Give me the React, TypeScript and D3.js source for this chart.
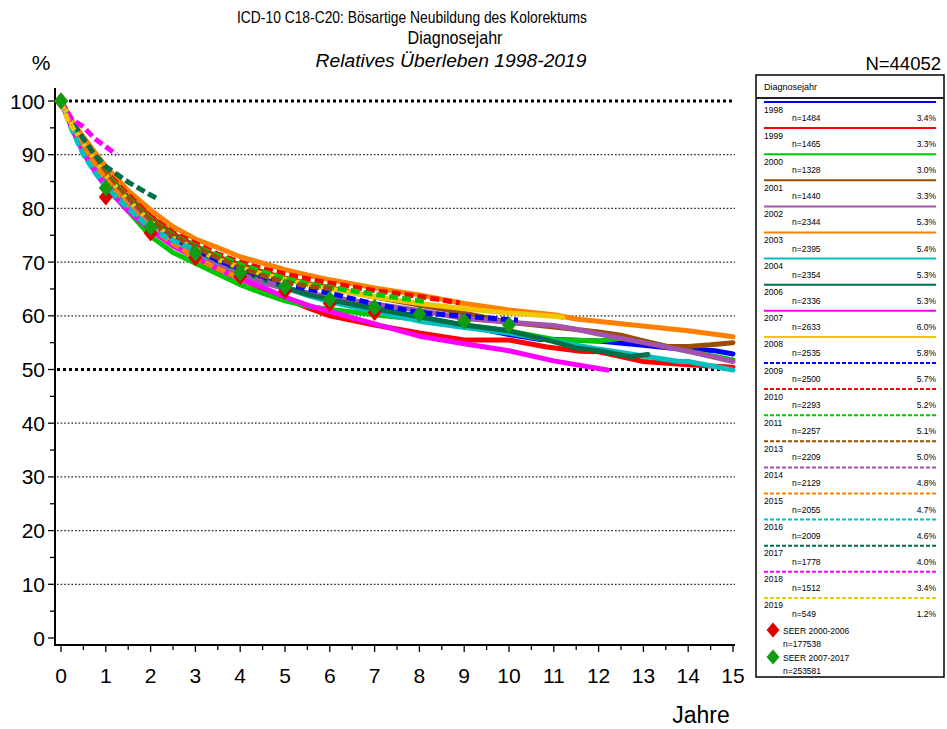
import React from 'react';
import * as d3 from 'd3';

const W = 947;
const H = 729;

// ---- Data ----
const diagYears = ['1998', '1999', '2000', '2001', '2002', '2003', '2004', '2006', '2007', '2008', '2009', '2010', '2011', '2013', '2014', '2015', '2016', '2017', '2018', '2019'];
const caseCounts = [1484, 1465, 1328, 1440, 2344, 2395, 2354, 2336, 2633, 2535, 2500, 2293, 2257, 2209, 2129, 2055, 2009, 1778, 1512, 549];
const caseShares = ['3.4%', '3.3%', '3.0%', '3.3%', '5.3%', '5.4%', '5.3%', '5.3%', '6.0%', '5.8%', '5.7%', '5.2%', '5.1%', '5.0%', '4.8%', '4.7%', '4.6%', '4.0%', '3.4%', '1.2%'];

const xTicks = [0, 1, 2, 3, 4, 5, 6, 7, 8, 9, 10, 11, 12, 13, 14, 15];
const yTicks = [0, 10, 20, 30, 40, 50, 60, 70, 80, 90, 100];

const s1998: [number, number][] = [[0, 100], [0.25, 95.5], [0.5, 92], [0.75, 88.8], [1, 86], [1.5, 81.8], [2, 77.5], [2.5, 74.5], [3, 72.2], [3.5, 70.2], [4, 68.6], [4.5, 67], [5, 65.2], [5.5, 64.2], [6, 63.3], [7, 61.5], [8, 59.8], [9, 58.2], [10, 56.5], [10.7, 55.6], [11, 55.6], [12, 55.3], [13, 54.5], [13.6, 54.0], [14, 53.8], [14.6, 53.5], [15, 52.9]];
const s1999: [number, number][] = [[0, 100], [0.25, 95], [0.5, 91.3], [0.75, 88], [1, 85], [1.5, 80.5], [2, 76.5], [2.5, 73.5], [3, 71.2], [3.5, 69], [4, 67], [4.5, 65], [5, 63.3], [5.5, 61.5], [6, 60], [7, 58.3], [8, 56.8], [9, 55.5], [10, 55.5], [10.85, 54.2], [11.6, 53.4], [12, 53.3], [13, 51.5], [14, 50.9], [15, 50.4]];
const s2000: [number, number][] = [[0, 100], [0.25, 95], [0.5, 91], [0.75, 87.5], [1, 84], [1.5, 79.5], [2, 74.8], [2.5, 71.8], [3, 69.8], [3.5, 67.8], [4, 65.8], [4.5, 64.2], [5, 62.8], [5.5, 61.8], [6, 61.2], [7, 60.2], [8, 59.3], [9, 58.3], [10, 57.2], [11, 55.6], [12, 55.3], [12.5, 55.8], [13, 55.3], [14, 53.4], [15, 51.8]];
const s2001: [number, number][] = [[0, 100], [0.25, 96], [0.5, 92.8], [0.75, 89.8], [1, 87], [1.5, 82.5], [2, 78.5], [2.5, 75.3], [3, 73], [3.5, 71], [4, 69.5], [4.5, 68.2], [5, 67], [5.5, 66], [6, 65.2], [7, 63.5], [8, 62], [9, 60.5], [10, 58.8], [11, 57.9], [12, 57.0], [12.5, 56.4], [13, 55.3], [13.5, 54.3], [14, 54.3], [14.5, 54.6], [15, 55.0]];
const s2002: [number, number][] = [[0, 100], [0.25, 95.3], [0.5, 91.5], [0.75, 88.5], [1, 85.5], [1.5, 81], [2, 77], [2.5, 73.8], [3, 71.5], [3.5, 69.5], [4, 67.8], [4.5, 66.2], [5, 65], [5.5, 64.2], [6, 63.5], [7, 62.2], [8, 61], [9, 59.5], [10, 58.8], [11, 58.2], [11.5, 57.5], [12, 56.6], [13, 55.0], [14, 53.4], [15, 51.5]];
const s2003: [number, number][] = [[0, 100], [0.25, 96.2], [0.5, 93.3], [0.75, 90.5], [1, 87.8], [1.5, 83.3], [2, 79.7], [2.5, 76.6], [3, 74.3], [3.5, 72.7], [4, 71], [4.5, 69.8], [5, 68.6], [5.5, 67.6], [6, 66.7], [7, 65.2], [8, 63.9], [9, 62.3], [10, 61.1], [11, 60.2], [11.5, 59.4], [12.5, 58.5], [14, 57.2], [15, 56.1]];
const s2004: [number, number][] = [[0, 100], [0.25, 94.8], [0.5, 90.3], [0.75, 87], [1, 84], [1.5, 80], [2, 76.3], [2.5, 73.8], [3, 71.8], [3.5, 70], [4, 68.4], [4.5, 66.6], [5, 65.2], [5.5, 63.8], [6, 62.6], [7, 60.8], [8, 59], [9, 57.8], [10, 56.8], [11, 55.3], [12, 53.8], [13, 52.5], [13.8, 51.5], [14, 51.5], [15, 49.9]];
const s2006: [number, number][] = [[0, 100], [0.25, 95.5], [0.5, 92], [0.75, 89], [1, 86.3], [1.5, 81.8], [2, 77.6], [2.5, 74.7], [3, 72.3], [3.5, 70.2], [4, 68.5], [4.5, 66.8], [5, 65.3], [5.5, 64], [6, 63], [7, 61.3], [8, 59.8], [9, 58.3], [10, 57.2], [11, 55.2], [11.5, 54], [12, 53.5], [12.7, 52.4], [13.1, 52.8]];
const s2007: [number, number][] = [[0, 100], [0.25, 94.8], [0.5, 90.5], [0.75, 87], [1, 84], [1.5, 79.5], [2, 76], [2.5, 73], [3, 70.8], [3.5, 68.7], [4, 66.8], [4.5, 65.3], [5, 63.5], [5.5, 62], [6, 60.8], [7, 58.5], [8, 56.2], [9, 54.8], [10, 53.5], [11, 51.6], [12, 50.2], [12.2, 49.9]];
const s2008: [number, number][] = [[0, 100], [0.25, 95.5], [0.5, 92], [0.75, 89], [1, 86.2], [1.5, 81.5], [2, 77.5], [2.5, 74.5], [3, 72.5], [3.5, 70.5], [4, 69], [4.5, 67.8], [5, 66.8], [5.5, 65.8], [6, 65], [7, 63.5], [8, 62.3], [9, 61.3], [10, 60.5], [11, 59.9], [11.2, 59.7]];
const s2009: [number, number][] = [[0, 100], [0.25, 95.5], [0.5, 91.8], [0.75, 88.8], [1, 86], [1.5, 81.5], [2, 77.5], [2.5, 74.5], [3, 72.3], [3.5, 70.3], [4, 68.7], [4.5, 67.2], [5, 66], [5.5, 65], [6, 64.2], [7, 62.2], [8, 60.6], [9, 59.9], [10, 59.3], [10.2, 59.2]];
const s2010: [number, number][] = [[0, 100], [0.25, 96], [0.5, 92.5], [0.75, 89.5], [1, 86.8], [1.5, 82.5], [2, 78.5], [2.5, 75.5], [3, 73.5], [3.5, 71.5], [4, 70], [4.5, 68.8], [5, 67.8], [5.5, 66.9], [6, 66.1], [7, 64.7], [8, 63.6], [8.9, 62.4]];
const s2011: [number, number][] = [[0, 100], [0.25, 95.8], [0.5, 92.3], [0.75, 89.3], [1, 86.5], [1.5, 82], [2, 78], [2.5, 75], [3, 73], [3.5, 71.2], [4, 69.6], [4.5, 68.2], [5, 67], [5.5, 66], [6, 65.3], [7, 64], [8, 62.8], [8.17, 62.6]];
const s2013: [number, number][] = [[0, 100], [0.25, 95.5], [0.5, 92], [0.75, 89], [1, 86.2], [1.5, 81.8], [2, 77.8], [2.5, 74.8], [3, 72.8], [3.5, 70.8], [4, 69], [4.5, 67.5], [5, 66.3], [5.5, 65.5], [6, 65.1], [6.1, 65.0]];
const s2014: [number, number][] = [[0, 100], [0.25, 95], [0.5, 91.3], [0.75, 88.2], [1, 85.3], [1.5, 80.8], [2, 76.8], [2.5, 73.5], [3, 71.3], [3.5, 69.3], [4, 67.8], [4.5, 66.3], [5, 65.5], [5.1, 65.4]];
const s2015: [number, number][] = [[0, 100], [0.25, 95.2], [0.5, 91.5], [0.75, 88.3], [1, 85.5], [1.5, 80.5], [2, 76.5], [2.5, 73.5], [3, 70.8], [3.5, 68.8], [4, 67.0], [4.1, 66.8]];
const s2016: [number, number][] = [[0, 100], [0.25, 94.5], [0.5, 90], [0.75, 86.8], [1, 84], [1.5, 80], [2, 76.2], [2.5, 74], [3, 72.3], [3.1, 72]];
const s2017: [number, number][] = [[0, 100], [0.25, 96], [0.5, 93], [0.75, 90], [1, 87.8], [1.5, 84.9], [2, 82.5], [2.2, 81.6]];
const s2018: [number, number][] = [[0, 100], [0.25, 96.5], [0.5, 95.2], [0.75, 93], [1, 91.5], [1.24, 90]];
const s2019: [number, number][] = [[0, 100], [0.15, 96.5], [0.3, 94.5]];

const seerRed: [number, number][] = [[0, 100], [1, 82.1], [2, 75.4], [3, 70.8], [4, 67.3], [5, 64.6], [6, 62.3], [7, 60.6]];
const seerGreen: [number, number][] = [[0, 100], [1, 83.8], [2, 76.5], [3, 71.7], [4, 68], [5, 65.4], [6, 63.1], [7, 61.6], [8, 60.3], [9, 59.0], [10, 58.3]];
const seerLabels = ['SEER 2000-2006', 'SEER 2007-2017'];
const seerCounts = ['n=177538', 'n=253581'];

const allSeries = [s1998, s1999, s2000, s2001, s2002, s2003, s2004, s2006, s2007, s2008, s2009, s2010, s2011, s2013, s2014, s2015, s2016, s2017, s2018, s2019];

// ---- Styles ----
const palette = ['#0000ff', '#ff0000', '#00c800', '#9a4c00', '#a452ac', '#ff8000', '#00c0c0', '#006e46', '#ff00ff', '#f0c800'];
const FONT = '"Liberation Sans", Arial, Helvetica, sans-serif';

const x = d3.scaleLinear().domain([0, 15]).range([61, 733]);
const y = d3.scaleLinear().domain([0, 100]).range([638, 101]);

const line = d3.line<[number, number]>().x(d => x(d[0])).y(d => y(d[1])).curve(d3.curveLinear);

function diamond(cx: number, cy: number, hw: number, hh: number) {
  return `M${cx},${cy - hh}L${cx + hw},${cy}L${cx},${cy + hh}L${cx - hw},${cy}Z`;
}

export default function App() {
  const minorY = d3.range(5, 100, 10);
  const minorX = d3.range(0.5, 15, 1);
  const legendTop = 102;
  const legendStep = 26.1;
  return (
    <div style={{ position: 'absolute', left: 0, top: 0 }}>
      <svg width={W} height={H} style={{ display: 'block', background: '#fff' }} fontFamily={FONT}>
        <rect x={0} y={0} width={W} height={H} fill="#fff" />
        {/* Titles */}
        <text x={412} y={22.5} fontSize={16.5} textAnchor="middle" textLength={350} lengthAdjust="spacingAndGlyphs">ICD-10 C18-C20: Bösartige Neubildung des Kolorektums</text>
        <text x={455} y={44} fontSize={19} textAnchor="middle" textLength={95} lengthAdjust="spacingAndGlyphs">Diagnosejahr</text>
        <text x={451} y={66.5} fontSize={19} textAnchor="middle" fontStyle="italic" textLength={271} lengthAdjust="spacingAndGlyphs">Relatives Überleben 1998-2019</text>
        <text x={41} y={70} fontSize={21} textAnchor="middle">%</text>
        <text x={941} y={69.5} fontSize={18.5} textAnchor="end">N=44052</text>

        {/* Gridlines */}
        {yTicks.filter(v => v > 0).map(v => (
          <line key={'g' + v} x1={57} x2={735} y1={y(v)} y2={y(v)}
            stroke="#000" strokeWidth={v % 50 === 0 ? 3 : 1.3}
            strokeDasharray={v % 50 === 0 ? '3 3' : '1.6 2'} opacity={v % 50 === 0 ? 1 : 0.85} />
        ))}

        {/* Axes */}
        <line x1={55} x2={55} y1={88} y2={646} stroke="#000" strokeWidth={2} />
        <line x1={54} x2={735} y1={645} y2={645} stroke="#000" strokeWidth={2} />
        {yTicks.map(v => (
          <g key={'yt' + v}>
            <line x1={48} x2={55} y1={y(v)} y2={y(v)} stroke="#000" strokeWidth={1.3} />
            <text x={45} y={y(v) + 7.5} fontSize={21} textAnchor="end">{v}</text>
          </g>
        ))}
        {minorY.map(v => (
          <line key={'ym' + v} x1={50} x2={55} y1={y(v)} y2={y(v)} stroke="#000" strokeWidth={1.3} />
        ))}
        {xTicks.map(v => (
          <g key={'xt' + v}>
            <line x1={x(v)} x2={x(v)} y1={645} y2={652} stroke="#000" strokeWidth={1.3} />
            <text x={x(v)} y={682.5} fontSize={21} textAnchor="middle">{v}</text>
          </g>
        ))}
        {minorX.map(v => (
          <line key={'xm' + v} x1={x(v)} x2={x(v)} y1={645} y2={650} stroke="#000" strokeWidth={1.3} />
        ))}
        <text x={701} y={723} fontSize={23} textAnchor="middle">Jahre</text>

        {/* Survival curves */}
        {allSeries.map((s, i) => (
          <path key={'s' + i} d={line(s) || ''} fill="none" stroke={palette[i % 10]}
            strokeWidth={5} strokeLinejoin="round" strokeLinecap={i >= 10 ? 'butt' : 'round'}
            strokeDasharray={i >= 10 ? '9 4' : undefined} />
        ))}

        {/* SEER markers */}
        {seerRed.map((d, i) => (
          <path key={'sr' + i} d={diamond(x(d[0]), y(d[1]), 7, 8.5)} fill="#e00000" />
        ))}
        {seerGreen.map((d, i) => (
          <path key={'sg' + i} d={diamond(x(d[0]), y(d[1]), 7, 8.5)} fill="#119c11" />
        ))}

        {/* Legend */}
        <rect x={756} y={75} width={188} height={602} fill="none" stroke="#000" strokeWidth={1.5} />
        <text x={764} y={89.5} fontSize={9}>Diagnosejahr</text>
        <line x1={756} x2={944} y1={98} y2={98} stroke="#222" strokeWidth={2} />
        {diagYears.map((yr, i) => {
          const ly = legendTop + i * legendStep;
          return (
            <g key={'lg' + i}>
              <line x1={764} x2={936} y1={ly} y2={ly} stroke={palette[i % 10]} strokeWidth={2}
                strokeDasharray={i >= 10 ? '4 2' : undefined} />
              <text x={764} y={ly + 10.5} fontSize={8.5}>{yr}</text>
              <text x={792} y={ly + 19} fontSize={8.5}>{'n=' + caseCounts[i]}</text>
              <text x={936} y={ly + 19} fontSize={8.5} textAnchor="end">{caseShares[i]}</text>
            </g>
          );
        })}
        {seerLabels.map((lab, i) => {
          const cy = 630 + i * 27;
          return (
            <g key={'sl' + i}>
              <path d={diamond(773, cy, 6.5, 7.5)} fill={i === 0 ? '#e00000' : '#119c11'} />
              <text x={783} y={cy + 3.5} fontSize={8.5}>{lab}</text>
              <text x={783} y={cy + 17} fontSize={8.5}>{seerCounts[i]}</text>
            </g>
          );
        })}
      </svg>
    </div>
  );
}
